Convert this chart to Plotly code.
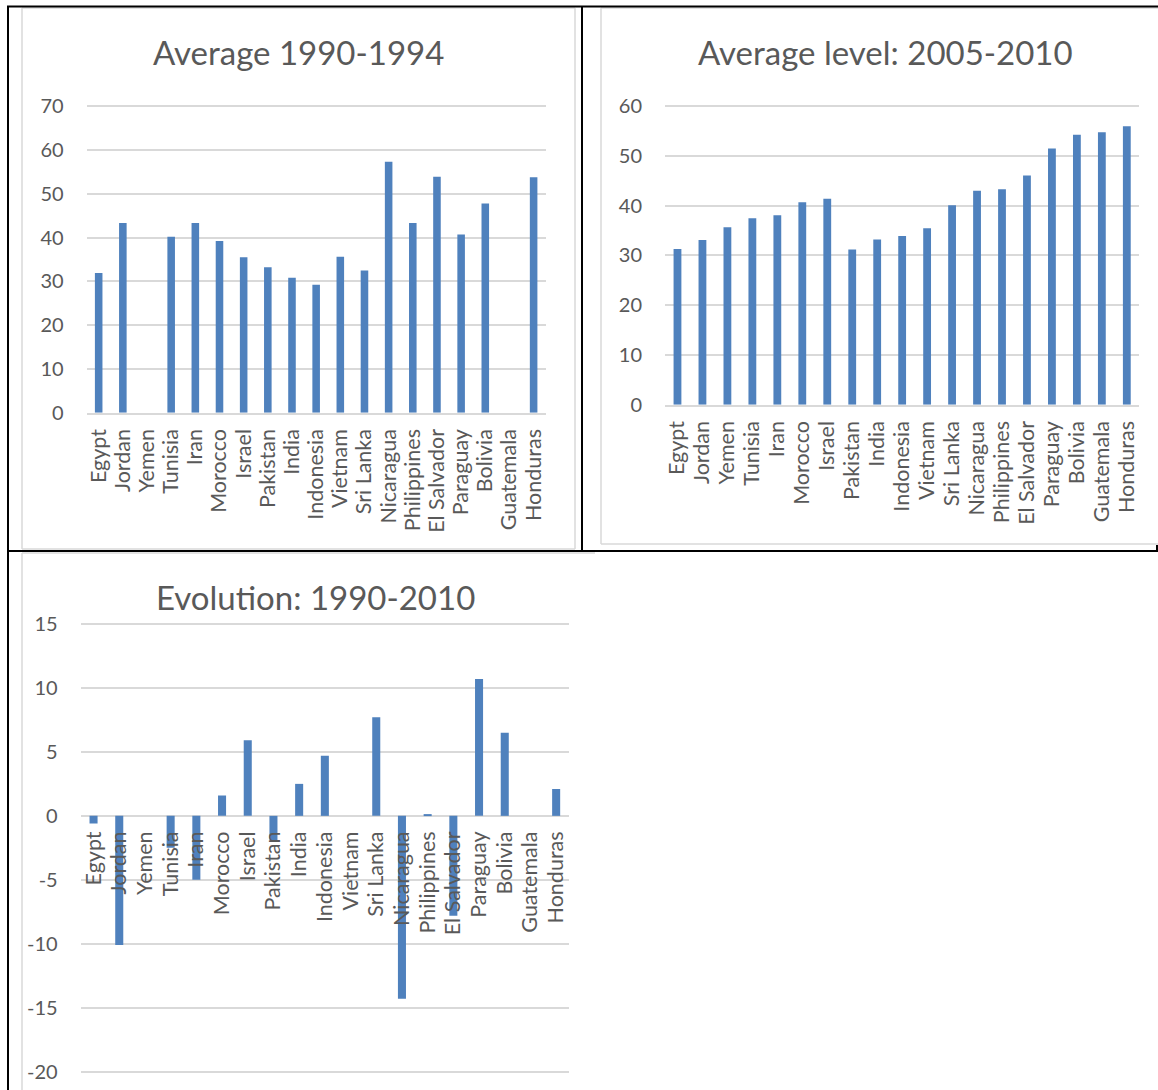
import plotly.graph_objects as go

# ---- data -------------------------------------------------------------
countries = [
    "Egypt", "Jordan", "Yemen", "Tunisia", "Iran", "Morocco", "Israel",
    "Pakistan", "India", "Indonesia", "Vietnam", "Sri Lanka", "Nicaragua",
    "Philippines", "El Salvador", "Paraguay", "Bolivia", "Guatemala", "Honduras",
]

avg_1990_1994 = [
    31.9, 43.3, None, 40.2, 43.3, 39.2, 35.5, 33.2, 30.8, 29.2,
    35.6, 32.5, 57.3, 43.3, 53.9, 40.7, 47.8, None, 53.8,
]

avg_2005_2010 = [
    31.3, 33.1, 35.7, 37.5, 38.1, 40.7, 41.4, 31.2, 33.2, 33.9,
    35.5, 40.1, 43.0, 43.3, 46.1, 51.5, 54.3, 54.8, 56.0,
]

evolution_1990_2010 = [
    -0.6, -10.1, None, -2.5, -5.0, 1.6, 5.9, -1.9, 2.5, 4.7,
    None, 7.7, -14.3, 0.1, -7.8, 10.7, 6.5, None, 2.1,
]

titles = ["Average 1990-1994", "Average level: 2005-2010", "Evolution: 1990-2010"]

evo_tickvals = [-20, -15, -10, -5, 0, 5, 10, 15]
evo_ticktext = ["-20", "-15", "-10", "-5", "0", "5", "10", "15"]

# ---- styling ----------------------------------------------------------
W, H = 1158, 1090
BLUE = "#4F81BD"
GRID = "#D9D9D9"
TEXT = "#595959"
FONT = "Lato, Carlito, Calibri, sans-serif"
TICK_SIZE = 20
CAT_SIZE = 21.5
TITLE_SIZE = 33
BARGAP = 0.687
PAD = 0.004  # small headroom so the end gridlines stay visible


def fx(px):
    return px / W


def fy(py):
    return 1 - py / H


# plot-area boxes in page pixels: (left, right, pixel of top value, pixel of bottom value)
boxes = [
    (86.6, 545.7, 106.2, 412.7),
    (665.0, 1139.3, 106.3, 404.7),
    (80.7, 569.0, 623.9, 1071.8),
]
ranges = [(0, 70), (0, 60), (-20, 15)]
series = [avg_1990_1994, avg_2005_2010, evolution_1990_2010]
title_pos = [(298, 52), (885, 52), (315, 597)]

fig = go.Figure()

for i, vals in enumerate(series):
    sfx = "" if i == 0 else str(i + 1)
    fig.add_trace(go.Bar(
        x=countries, y=vals,
        xaxis="x" + sfx, yaxis="y" + sfx,
        marker=dict(color=BLUE, line=dict(width=0)),
        showlegend=False,
    ))

layout = dict(
    width=W, height=H, autosize=False,
    margin=dict(l=0, r=0, t=0, b=0, pad=0),
    paper_bgcolor="white", plot_bgcolor="white",
    bargap=BARGAP,
    font=dict(family=FONT, color=TEXT, size=TICK_SIZE),
    showlegend=False,
)

for i, (l, r, t, b) in enumerate(boxes):
    sfx = "" if i == 0 else str(i + 1)
    lo, hi = ranges[i]
    span = hi - lo
    ppu = (b - t) / span
    r_lo = lo - (PAD * span if i == 2 else 0)
    r_hi = hi + PAD * span
    dom_b = b + (lo - r_lo) * ppu
    dom_t = t - (r_hi - hi) * ppu
    ydom = [fy(dom_b), fy(dom_t)]
    xaxis = dict(
        domain=[fx(l), fx(r)],
        anchor="y" + sfx,
        type="category",
        categoryorder="array", categoryarray=countries,
        range=[-0.5, len(countries) - 0.5],
        tickmode="linear", tick0=0, dtick=1,
        tickangle=-90,
        ticks="outside", ticklen=6, tickcolor="rgba(0,0,0,0)",
        tickfont=dict(family=FONT, size=CAT_SIZE, color=TEXT),
        showgrid=False, zeroline=False,
        showline=(i < 2), linecolor=GRID, linewidth=1.5,
        automargin=False,
        fixedrange=True,
    )
    yaxis = dict(
        domain=ydom,
        anchor="x" + sfx,
        range=[r_lo, r_hi],
        showgrid=True, gridcolor=GRID, gridwidth=1.5,
        zeroline=(i == 2), zerolinecolor=GRID, zerolinewidth=1.5,
        ticks="outside", ticklen=18, tickcolor="rgba(0,0,0,0)",
        tickfont=dict(family=FONT, size=TICK_SIZE, color=TEXT),
        showline=False,
        automargin=False,
        fixedrange=True,
    )
    if i < 2:
        yaxis["tickmode"] = "linear"
        yaxis["dtick"] = 10
        yaxis["tick0"] = 0
    else:
        yaxis["tickmode"] = "array"
        yaxis["tickvals"] = evo_tickvals
        yaxis["ticktext"] = evo_ticktext
        # category labels sit on the zero line, as in the spreadsheet chart
        zero_frac = (0 - r_lo) / (r_hi - r_lo)
        xaxis["anchor"] = "free"
        xaxis["position"] = ydom[0] + zero_frac * (ydom[1] - ydom[0])
    layout["xaxis" + sfx] = xaxis
    layout["yaxis" + sfx] = yaxis

annotations = []
for text, (cx, cy) in zip(titles, title_pos):
    annotations.append(dict(
        text=text, xref="paper", yref="paper",
        x=fx(cx), y=fy(cy), xanchor="center", yanchor="middle",
        showarrow=False,
        font=dict(family=FONT, size=TITLE_SIZE, color=TEXT),
    ))
layout["annotations"] = annotations


def hline(y, x0, x1, color, width):
    return dict(type="line", xref="paper", yref="paper",
                x0=fx(x0), x1=fx(x1), y0=fy(y), y1=fy(y),
                line=dict(color=color, width=width), layer="above")


def vline(x, y0, y1, color, width):
    return dict(type="line", xref="paper", yref="paper",
                x0=fx(x), x1=fx(x), y0=fy(y0), y1=fy(y1),
                line=dict(color=color, width=width), layer="above")


shapes = [
    # light chart-area frames
    hline(8, 22, 575, GRID, 1.5),
    vline(22, 8, 549, GRID, 1.5),
    vline(575, 8, 549, GRID, 1.5),
    hline(549, 22, 575, GRID, 1.5),
    hline(8, 601, 1160, GRID, 1.5),
    vline(601, 8, 544, GRID, 1.5),
    hline(544, 601, 1160, GRID, 1.5),
    hline(553, 22, 595, GRID, 1.5),
    vline(22, 553, 1092, GRID, 1.5),
    # table borders
    hline(6.5, 7, 1158, "black", 2),
    vline(8, 6, 1092, "black", 2),
    vline(582, 6, 551, "black", 2),
    hline(551, 8, 1158, "black", 2),
    vline(1157, 545, 552, "black", 2),
]
layout["shapes"] = shapes

fig.update_layout(**layout)
fig.write_html("out.html", config=dict(displayModeBar=False))
